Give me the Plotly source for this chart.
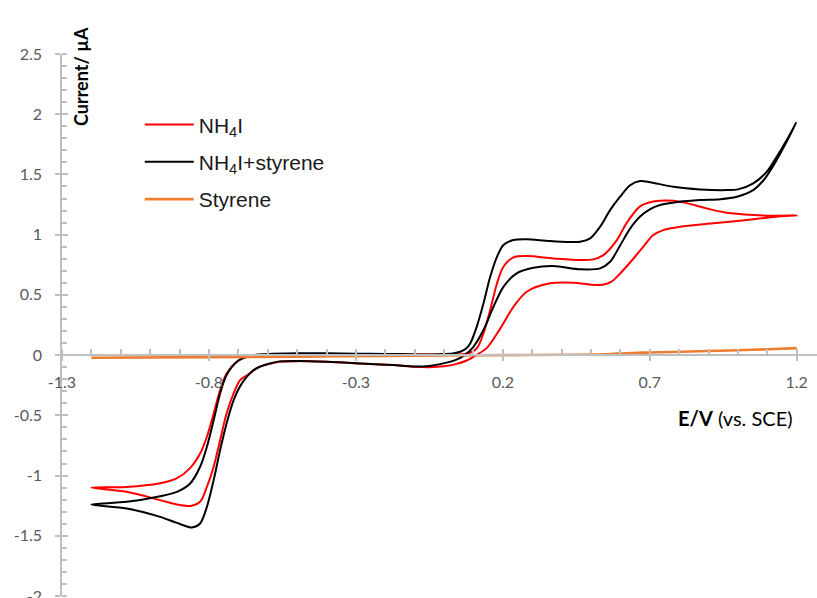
import plotly.graph_objects as go

# ---------------- data ----------------
# NH4I : forward scan (-1.2 -> 1.2) followed by reverse scan (1.2 -> -1.2)
nh4i_E = [-1.20, -1.08, -0.97, -0.91, -0.865, -0.83, -0.807, -0.784, -0.762, -0.74,
          -0.705, -0.67, -0.62, -0.50, -0.30, -0.10, 0.02, 0.077, 0.111, 0.134,
          0.157, 0.180, 0.202, 0.236, 0.281, 0.372, 0.463, 0.508, 0.542, 0.588,
          0.622, 0.667, 0.712, 0.780, 0.826, 0.894, 0.962, 1.052, 1.120, 1.20,
          1.13, 1.03, 0.916, 0.803, 0.746, 0.712, 0.678, 0.644, 0.60, 0.57,
          0.54, 0.50, 0.44, 0.349, 0.281, 0.236, 0.191, 0.146, 0.11, 0.077,
          0.04, 0.0, -0.05, -0.10, -0.172, -0.285, -0.40, -0.50, -0.56, -0.60,
          -0.635, -0.665, -0.694, -0.716, -0.74, -0.762, -0.784, -0.807, -0.83, -0.858,
          -0.909, -0.966, -1.08, -1.20]
nh4i_I = [-1.10, -1.094, -1.066, -1.024, -0.94, -0.817, -0.678, -0.484, -0.291, -0.152,
          -0.055, -0.014, 0.0, 0.008, 0.008, 0.005, 0.005, 0.012, 0.055, 0.18,
          0.374, 0.595, 0.734, 0.811, 0.822, 0.803, 0.789, 0.795, 0.830, 0.955,
          1.10, 1.235, 1.275, 1.282, 1.262, 1.218, 1.182, 1.163, 1.157, 1.16,
          1.149, 1.121, 1.094, 1.066, 1.038, 0.997, 0.90, 0.80, 0.68, 0.61,
          0.585, 0.585, 0.601, 0.590, 0.526, 0.401, 0.22, 0.06, 0.0, -0.045,
          -0.075, -0.093, -0.10, -0.097, -0.083, -0.069, -0.055, -0.05, -0.055, -0.075,
          -0.105, -0.16, -0.208, -0.318, -0.484, -0.706, -0.927, -1.094, -1.218, -1.251,
          -1.240, -1.204, -1.135, -1.10]

# NH4I + styrene
mix_E = [-1.20, -1.08, -0.966, -0.909, -0.864, -0.83, -0.807, -0.784, -0.762, -0.74,
         -0.705, -0.66, -0.603, -0.50, -0.40, -0.30, -0.20, -0.10, -0.013, 0.03,
         0.055, 0.077, 0.089, 0.111, 0.134, 0.157, 0.180, 0.202, 0.236, 0.281,
         0.361, 0.463, 0.497, 0.531, 0.565, 0.599, 0.633, 0.667, 0.701, 0.780,
         0.871, 0.96, 1.00, 1.052, 1.098, 1.132, 1.166, 1.198,
         1.15, 1.120, 1.090, 1.052, 0.996, 0.94, 0.871, 0.80, 0.735, 0.70,
         0.667, 0.633, 0.599, 0.565, 0.531, 0.463, 0.372, 0.304, 0.247, 0.202,
         0.168, 0.134, 0.10, 0.07, 0.04, -0.013, -0.05, -0.10, -0.172, -0.285,
         -0.40, -0.50, -0.56, -0.592, -0.625, -0.649, -0.688, -0.716, -0.74, -0.762,
         -0.784, -0.807, -0.83, -0.858, -0.909, -0.966, -1.08, -1.20]
mix_I = [-1.24, -1.218, -1.171, -1.135, -1.066, -0.927, -0.761, -0.54, -0.318, -0.166,
         -0.055, -0.006, 0.008, 0.015, 0.015, 0.012, 0.010, 0.006, 0.008, 0.014,
         0.028, 0.06, 0.097, 0.235, 0.429, 0.65, 0.816, 0.914, 0.955, 0.961,
         0.947, 0.941, 0.969, 1.066, 1.204, 1.315, 1.41, 1.445, 1.435, 1.398,
         1.376, 1.37, 1.376, 1.426, 1.522, 1.647, 1.786, 1.929,
         1.70, 1.57, 1.46, 1.37, 1.315, 1.295, 1.288, 1.273, 1.246, 1.21,
         1.15, 1.05, 0.91, 0.775, 0.72, 0.712, 0.739, 0.725, 0.679, 0.567,
         0.401, 0.208, 0.069, 0.0, -0.04, -0.075, -0.09, -0.095, -0.083, -0.069,
         -0.055, -0.048, -0.052, -0.069, -0.095, -0.125, -0.235, -0.374, -0.567, -0.789,
         -1.038, -1.26, -1.398, -1.431, -1.393, -1.343, -1.274, -1.24]

# Styrene
sty_E = [-1.20, -0.80, -0.50, -0.20, 0.00, 0.20, 0.40, 0.55, 0.62, 0.70, 0.90, 1.05, 1.20]
sty_I = [-0.022, -0.017, -0.013, -0.006, -0.002, 0.000, 0.003, 0.007, 0.016, 0.022, 0.034, 0.044, 0.058]

series_names = ["NH<sub>4</sub>I", "NH<sub>4</sub>I+styrene", "Styrene"]
series_colors = ["#FF0000", "#000000", "#ED7D31"]

x_tickvals = [-1.3, -0.8, -0.3, 0.2, 0.7, 1.2]
x_ticktext = ["-1.3", "-0.8", "-0.3", "0.2", "0.7", "1.2"]
y_tickvals = [-2, -1.5, -1, -0.5, 0, 0.5, 1, 1.5, 2, 2.5]
y_ticktext = ["-2", "-1.5", "-1", "-0.5", "0", "0.5", "1", "1.5", "2", "2.5"]

X_RANGE = [-1.3, 1.269]
Y_RANGE = [-2, 2.5]
XPOS = (0 - Y_RANGE[0]) / (Y_RANGE[1] - Y_RANGE[0])

AX = "#BFBFBF"
TICKFONT = dict(family="Lato", size=16, color="#595959")

fig = go.Figure()
for i, (xs, ys) in enumerate([(nh4i_E, nh4i_I), (mix_E, mix_I), (sty_E, sty_I)]):
    fig.add_trace(go.Scatter(
        x=xs, y=ys, mode="lines", name=series_names[i], legendgroup=str(i),
        line=dict(color=series_colors[i], width=2.6 if i == 2 else 2,
                  shape="spline", smoothing=0.85),
        hoverinfo="skip"))

# dummy trace for the overlay axes that draw the inner half of the crossing major ticks
fig.add_trace(go.Scatter(x=[None], y=[None], xaxis="x2", yaxis="y2",
                         showlegend=False, hoverinfo="skip"))

fig.update_layout(
    width=817, height=598,
    margin=dict(l=62, r=0, t=54, b=2, pad=0, autoexpand=False),
    paper_bgcolor="white", plot_bgcolor="white",
    showlegend=True,
    legend=dict(x=0.103, y=0.907, xanchor="left", yanchor="top",
                font=dict(family="Liberation Sans", size=21, color="#1a1a1a"),
                tracegroupgap=7, itemwidth=49, bgcolor="rgba(0,0,0,0)"),
    xaxis=dict(range=X_RANGE, anchor="free", position=XPOS, automargin=False,
               tickmode="array", tickvals=x_tickvals, ticktext=x_ticktext,
               ticks="outside", ticklen=5, tickwidth=1.5, tickcolor=AX,
               showline=True, linecolor=AX, linewidth=1.5,
               showgrid=False, zeroline=False, tickfont=TICKFONT,
               ticklabelstandoff=8, ticklabeloverflow="allow",
               minor=dict(ticks="inside", tickmode="linear", tick0=-1.3, dtick=0.1,
                          ticklen=5, tickwidth=1.5, tickcolor=AX, showgrid=False)),
    yaxis=dict(range=Y_RANGE, tickmode="array", tickvals=y_tickvals, ticktext=y_ticktext,
               automargin=False,
               ticks="outside", ticklen=5, tickwidth=1.5, tickcolor=AX,
               showline=True, linecolor=AX, linewidth=1.5,
               showgrid=False, zeroline=False, tickfont=TICKFONT,
               ticklabelstandoff=10, ticklabeloverflow="allow",
               minor=dict(ticks="inside", tickmode="linear", tick0=0, dtick=0.1,
                          ticklen=5, tickwidth=1.5, tickcolor=AX, showgrid=False)),
    xaxis2=dict(range=X_RANGE, overlaying="x", anchor="free", position=XPOS,
                automargin=False,
                tickmode="array", tickvals=x_tickvals, ticks="inside", ticklen=5,
                tickwidth=1.5, tickcolor=AX, showticklabels=False, showline=False,
                showgrid=False, zeroline=False),
    yaxis2=dict(range=Y_RANGE, overlaying="y", anchor="free", position=0, side="left",
                automargin=False,
                tickmode="array", tickvals=y_tickvals, ticks="inside", ticklen=5,
                tickwidth=1.5, tickcolor=AX, showticklabels=False, showline=False,
                showgrid=False, zeroline=False),
    annotations=[
        dict(text="<b>Current/ µA</b>", xref="paper", yref="paper",
             x=(81 - 62) / 755, y=(596 - 77) / 542, textangle=-90,
             showarrow=False, xanchor="center", yanchor="middle",
             font=dict(family="Lato", size=18, color="#000000")),
        dict(text="<b>E/V</b> (vs. SCE)", xref="paper", yref="paper",
             x=(735 - 62) / 755, y=(596 - 418) / 542,
             showarrow=False, xanchor="center", yanchor="middle",
             font=dict(family="Lato", size=20, color="#000000")),
    ],
)

fig.write_html("out.html",
               config={"displayModeBar": False},
               post_script="document.body.style.margin='0px';document.body.style.padding='0px';")
